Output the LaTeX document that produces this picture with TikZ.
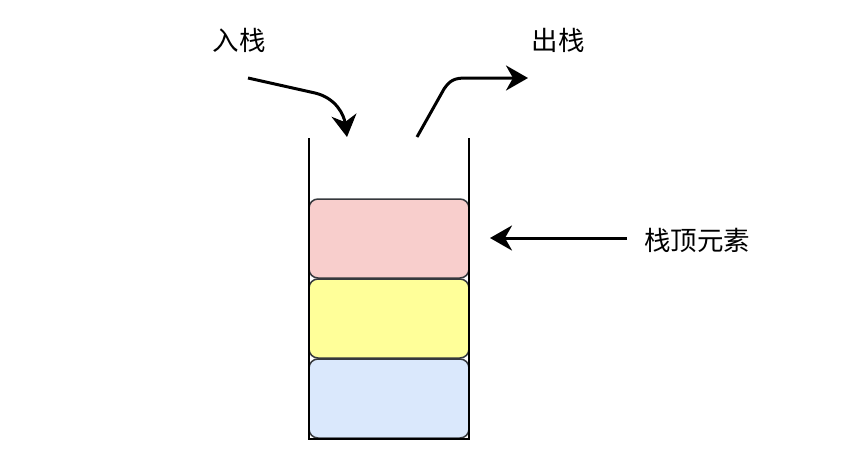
\documentclass[tikz,border=0pt]{standalone}
\usepackage{fontspec}
\setmainfont{Noto Sans CJK SC}
\usetikzlibrary{arrows.meta}
\definecolor{redfill}{HTML}{F8CECC}
\definecolor{yellowfill}{HTML}{FFFF99}
\definecolor{bluefill}{HTML}{DAE8FC}
\definecolor{boxline}{HTML}{36393D}
\tikzset{
  cell/.style={draw=boxline, line width=1.5pt, rounded corners=9pt, minimum width=160pt, minimum height=79pt, inner sep=0pt},
  lbl/.style={font=\fontsize{26.5}{30}\selectfont, inner sep=0pt},
  bigarrow/.style={line width=3pt, -{Stealth[length=22pt,width=25pt,inset=7pt]}},
  wall/.style={line width=2pt}
}
\begin{document}
\begin{tikzpicture}[x=1pt,y=-1pt]
\useasboundingbox (0,0) rectangle (864,458);
\node[lbl] (in) at (239,40) {入栈};
\node[lbl] (out) at (558,40) {出栈};
\node[lbl] (toplbl) at (697,240) {栈顶元素};
\node[cell, fill=bluefill] (c3) at (389,398.5) {};
\node[cell, fill=yellowfill] (c2) at (389,318.5) {};
\node[cell, fill=redfill] (c1) at (389,238.5) {};
\coordinate (lt) at (309,138);
\coordinate (lb) at (309,439);
\coordinate (rt) at (469,138);
\coordinate (rb) at (469,439);
\draw[wall] (lt) -- (lb) -- (rb) -- (rt);
\coordinate (inS) at (248,78);
\coordinate (inE) at (347,137);
\draw[bigarrow] (inS) -- (315,93) .. controls (336,98) and (344,115) .. (inE);
\coordinate (outS) at (417,137);
\coordinate (outE) at (528,78);
\draw[bigarrow] (outS) -- (444,89) .. controls (450,80) and (455,78) .. (466,78) -- (outE);
\coordinate (topS) at (627,238);
\coordinate (topE) at (490,238);
\draw[bigarrow] (topS) -- (topE);
\end{tikzpicture}
\end{document}
